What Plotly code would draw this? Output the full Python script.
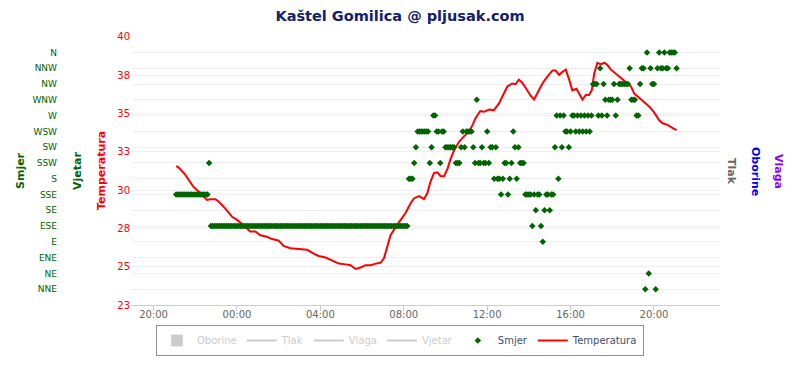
import plotly.graph_objects as go
import pandas as pd

title_text = "Kaštel Gomilica @ pljusak.com"

# Temperature line (time, °C)
temp_time = [
    "2015-08-01 21:05", "2015-08-01 21:11", "2015-08-01 21:31", "2015-08-01 21:55",
    "2015-08-01 22:14", "2015-08-01 22:34", "2015-08-01 22:43", "2015-08-01 22:58",
    "2015-08-01 23:07", "2015-08-01 23:26", "2015-08-01 23:46",
    "2015-08-02 00:00", "2015-08-02 00:19", "2015-08-02 00:38", "2015-08-02 00:53",
    "2015-08-02 01:07", "2015-08-02 01:26", "2015-08-02 01:41", "2015-08-02 02:00",
    "2015-08-02 02:14", "2015-08-02 02:34", "2015-08-02 02:58", "2015-08-02 03:22",
    "2015-08-02 03:41", "2015-08-02 03:55", "2015-08-02 04:15", "2015-08-02 04:34",
    "2015-08-02 04:53", "2015-08-02 05:13", "2015-08-02 05:27", "2015-08-02 05:41",
    "2015-08-02 05:56", "2015-08-02 06:10", "2015-08-02 06:25", "2015-08-02 06:39",
    "2015-08-02 06:53", "2015-08-02 07:03", "2015-08-02 07:13", "2015-08-02 07:22",
    "2015-08-02 07:37", "2015-08-02 07:51", "2015-08-02 08:05", "2015-08-02 08:19",
    "2015-08-02 08:29", "2015-08-02 08:44", "2015-08-02 08:58", "2015-08-02 09:08",
    "2015-08-02 09:17", "2015-08-02 09:27", "2015-08-02 09:37", "2015-08-02 09:46",
    "2015-08-02 09:56", "2015-08-02 10:06", "2015-08-02 10:15", "2015-08-02 10:25",
    "2015-08-02 10:39", "2015-08-02 10:53", "2015-08-02 11:08", "2015-08-02 11:18",
    "2015-08-02 11:27", "2015-08-02 11:40", "2015-08-02 11:51", "2015-08-02 12:06",
    "2015-08-02 12:19", "2015-08-02 12:34", "2015-08-02 12:48", "2015-08-02 12:58",
    "2015-08-02 13:12", "2015-08-02 13:22", "2015-08-02 13:31", "2015-08-02 13:41",
    "2015-08-02 13:51", "2015-08-02 14:05", "2015-08-02 14:15", "2015-08-02 14:24",
    "2015-08-02 14:39", "2015-08-02 14:53", "2015-08-02 15:08", "2015-08-02 15:17",
    "2015-08-02 15:27", "2015-08-02 15:36", "2015-08-02 15:46", "2015-08-02 15:56",
    "2015-08-02 16:05", "2015-08-02 16:17", "2015-08-02 16:29", "2015-08-02 16:34",
    "2015-08-02 16:44", "2015-08-02 16:53", "2015-08-02 17:01", "2015-08-02 17:08",
    "2015-08-02 17:17", "2015-08-02 17:27", "2015-08-02 17:37", "2015-08-02 17:46",
    "2015-08-02 17:56", "2015-08-02 18:10", "2015-08-02 18:25", "2015-08-02 18:39",
    "2015-08-02 18:54", "2015-08-02 19:03", "2015-08-02 19:18", "2015-08-02 19:32",
    "2015-08-02 19:46", "2015-08-02 20:01", "2015-08-02 20:15", "2015-08-02 20:25",
    "2015-08-02 20:39", "2015-08-02 20:53", "2015-08-02 21:05",
]
temp_vals = [
    31.55, 31.5, 31.0, 30.2,
    29.8, 29.35, 29.4, 29.4,
    29.25, 28.8, 28.25,
    28.05, 27.7, 27.3, 27.3,
    27.05, 26.95, 26.8, 26.7,
    26.35, 26.2, 26.15, 26.1,
    25.85, 25.7, 25.6, 25.4,
    25.2, 25.15, 25.1, 24.85,
    24.95, 25.1, 25.1, 25.2,
    25.25, 25.55, 26.3, 27.05,
    27.6, 28.05, 28.5, 29.1,
    29.45, 29.6, 29.4, 29.8,
    30.55, 31.1, 31.15, 30.9,
    30.9, 31.4, 32.05, 32.6,
    33.15, 33.5, 33.8, 34.25,
    34.7, 35.15, 35.1, 35.25,
    35.2, 35.65, 36.3, 36.75,
    36.95, 36.9, 37.2, 37.0,
    36.65, 36.15, 35.9, 36.3,
    36.95, 37.4, 37.8, 37.8,
    37.5, 37.7, 37.85, 37.2,
    36.5, 36.6, 36.1, 35.9,
    36.2, 36.2, 36.5, 37.6,
    38.3, 38.2, 38.3, 38.15,
    37.85, 37.6, 37.35, 37.05,
    36.75, 36.3, 36.0, 35.75,
    35.45, 35.05, 34.55, 34.35,
    34.25, 34.05, 33.9,
]

# Wind direction (one reading every 5 minutes from 21:05)
smjer_start = "2015-08-01 21:05"
smjer_step = "5min"
smjer_dir = [
    "SSE", "SSE", "SSE", "SSE", "SSE", "SSE", "SSE", "SSE", "SSE", "SSE", "SSE", "SSE",
    "SSE", "SSE", "SSE", "SSE", "SSE", "SSE", "SSE", "SSW", "ESE", "ESE", "ESE", "ESE",
    "ESE", "ESE", "ESE", "ESE", "ESE", "ESE", "ESE", "ESE", "ESE", "ESE", "ESE", "ESE",
    "ESE", "ESE", "ESE", "ESE", "ESE", "ESE", "ESE", "ESE", "ESE", "ESE", "ESE", "ESE",
    "ESE", "ESE", "ESE", "ESE", "ESE", "ESE", "ESE", "ESE", "ESE", "ESE", "ESE", "ESE",
    "ESE", "ESE", "ESE", "ESE", "ESE", "ESE", "ESE", "ESE", "ESE", "ESE", "ESE", "ESE",
    "ESE", "ESE", "ESE", "ESE", "ESE", "ESE", "ESE", "ESE", "ESE", "ESE", "ESE", "ESE",
    "ESE", "ESE", "ESE", "ESE", "ESE", "ESE", "ESE", "ESE", "ESE", "ESE", "ESE", "ESE",
    "ESE", "ESE", "ESE", "ESE", "ESE", "ESE", "ESE", "ESE", "ESE", "ESE", "ESE", "ESE",
    "ESE", "ESE", "ESE", "ESE", "ESE", "ESE", "ESE", "ESE", "ESE", "ESE", "ESE", "ESE",
    "ESE", "ESE", "ESE", "ESE", "ESE", "ESE", "ESE", "ESE", "ESE", "ESE", "ESE", "ESE",
    "ESE", "ESE", "S", "S", "S", "SSW", "SW", "WSW", "WSW", "WSW", "WSW", "WSW",
    "WSW", "WSW", "SSW", "SW", "W", "W", "WSW", "WSW", "SSW", "WSW", "WSW", "SW",
    "SW", "SW", "SW", "SW", "SW", "SSW", "SSW", "SSW", "SW", "WSW", "SW", "WSW",
    "WSW", "WSW", "WSW", "SW", "SSW", "WNW", "SSW", "SSW", "SW", "SSW", "SSW", "WSW",
    "SSW", "SW", "SW", "S", "SW", "S", "S", "SSE", "S", "SSW", "SSW", "SSE",
    "S", "SSW", "WSW", "SW", "S", "SW", "SSW", "SSW", "SSW", "SSE", "SSE", "SSE",
    "SSE", "ESE", "SSE", "SE", "SSE", "SSE", "ESE", "E", "SE", "SSE", "SSE", "SE",
    "SSE", "SSE", "SW", "W", "S", "W", "SW", "W", "WSW", "WSW", "SW", "WSW",
    "W", "W", "WSW", "W", "WSW", "W", "WSW", "W", "WSW", "W", "WSW", "W",
    "NW", "NW", "NW", "W", "NNW", "W", "NW", "WNW", "W", "WNW", "WNW", "WNW",
    "NW", "W", "WNW", "NW", "NW", "NW", "NW", "NW", "NW", "NNW", "WNW", "WNW",
    "WNW", "W", "W", "NW", "NNW", "NNW", "NNE", "N", "NE", "NNW", "NW", "NW",
    "NNE", "NNW", "N", "NNW", "NNW", "N", "NNW", "NNW", "N", "N", "N", "N",
    "NNW",
]

dir_names = ["NNE", "NE", "ENE", "E", "ESE", "SE", "SSE", "S",
             "SSW", "SW", "WSW", "W", "WNW", "NW", "NNW", "N"]
dir_degrees = [22.5, 45, 67.5, 90, 112.5, 135, 157.5, 180,
               202.5, 225, 247.5, 270, 292.5, 315, 337.5, 360]
dir_range = [0, 382.5]

temp_tick_vals = [22.5, 25, 27.5, 30, 32.5, 35, 37.5, 40]
temp_tick_text = ["23", "25", "28", "30", "33", "35", "38", "40"]
temp_range = [22.5, 40]

x_tick_vals = ["2015-08-01 20:00", "2015-08-02 00:00", "2015-08-02 04:00",
               "2015-08-02 08:00", "2015-08-02 12:00", "2015-08-02 16:00",
               "2015-08-02 20:00"]
x_tick_text = ["20:00", "00:00", "04:00", "08:00", "12:00", "16:00", "20:00"]
x_range = ["2015-08-01 18:58", "2015-08-02 23:10"]

# hidden series (shown only as greyed legend entries, no readings)
oborine_vals = [None]
tlak_vals = [None]
vlaga_vals = [None]
vjetar_vals = [None]

# ---------------------------------------------------------------
W, H = 800, 365
PL, PR, PT, PB = 132, 720, 36.7, 305

deg_of = dict(zip(dir_names, dir_degrees))
smjer_time = pd.date_range(smjer_start, periods=len(smjer_dir), freq=smjer_step)
smjer_vals = [deg_of[d] for d in smjer_dir]

GREEN = "#006400"
HID = "#999999"

fig = go.Figure()
fig.add_trace(go.Bar(x=oborine_vals, y=oborine_vals, name=f"<span style='color:{HID}'>Oborine</span>",
                     marker_color=HID, visible="legendonly"))
for nm, vals in [("Tlak", tlak_vals), ("Vlaga", vlaga_vals), ("Vjetar", vjetar_vals)]:
    fig.add_trace(go.Scatter(x=vals, y=vals, mode="lines", name=f"<span style='color:{HID}'>{nm}</span>",
                             line=dict(color=HID, width=2), visible="legendonly"))
fig.add_trace(go.Scatter(x=smjer_time, y=smjer_vals, mode="markers", name="Smjer", yaxis="y2",
                         marker=dict(symbol="diamond", size=5, color=GREEN)))
fig.add_trace(go.Scatter(x=pd.to_datetime(temp_time), y=temp_vals, mode="lines", name="Temperatura",
                         line=dict(color="#FF0000", width=2)))

ydom = [(H - PB) / H, (H - PT) / H]
fig.update_layout(
    width=W, height=H,
    margin=dict(l=0, r=0, t=0, b=0),
    paper_bgcolor="white", plot_bgcolor="white",
    font=dict(family="DejaVu Sans", size=10, color="#666666"),
    title=dict(text=title_text, x=0.5, xanchor="center", xref="paper",
               y=1 - 16 / H, yanchor="middle", yref="container",
               font=dict(size=14.5, color="#13216A", family="DejaVu Sans", weight="bold")),
    xaxis=dict(domain=[PL / W, PR / W], type="date", range=x_range,
               tickvals=x_tick_vals, ticktext=x_tick_text, showgrid=False,
               showline=True, linecolor="#C0D0E0", linewidth=1,
               ticks="outside", ticklen=5, tickcolor="#C0D0E0", ticklabelstandoff=-5,
               tickfont=dict(size=10, color="#666666"), zeroline=False, automargin=False),
    yaxis=dict(domain=ydom, range=temp_range, tickvals=temp_tick_vals, ticktext=temp_tick_text,
               tickfont=dict(size=10, color="#FF0000"), gridcolor="#EFEFEF", showline=False,
               zeroline=False, automargin=False, ticklabelstandoff=1),
    yaxis2=dict(overlaying="y", anchor="free", position=57 / W, side="left", range=dir_range,
                tickvals=dir_degrees, ticktext=dir_names, tickfont=dict(size=9, color=GREEN),
                gridcolor="#EFEFEF", showgrid=True, zeroline=False, showline=False,
                automargin=False),
    legend=dict(orientation="h", x=0.5, xanchor="center", y=1 - 325 / H, yanchor="top",
                bordercolor="#909090", borderwidth=1, bgcolor="white",
                font=dict(size=10, color="#3E4F6F", family="DejaVu Sans")),
    showlegend=True,
    barmode="group",
)

ymid = 1 - 171 / H
axis_titles = [
    ("Smjer", 20, GREEN, -90),
    ("Vjetar", 77, GREEN, -90),
    ("Temperatura", 101, "#FF0000", -90),
    ("Tlak", 732, "#666666", 90),
    ("Oborine", 756, "#0000FF", 90),
    ("Vlaga", 779, "#8B00FF", 90),
]
for txt, px, col, ang in axis_titles:
    fig.add_annotation(text=txt, x=px / W, y=ymid, xref="paper", yref="paper",
                       xanchor="center", yanchor="middle", showarrow=False, textangle=ang,
                       font=dict(size=11, color=col, family="DejaVu Sans", weight="bold"))

# the page body has a default 8px margin; remove it so the chart sits at the window origin
fig.write_html("out.html", config={"displayModeBar": False},
               post_script="document.body.style.margin='0';")
